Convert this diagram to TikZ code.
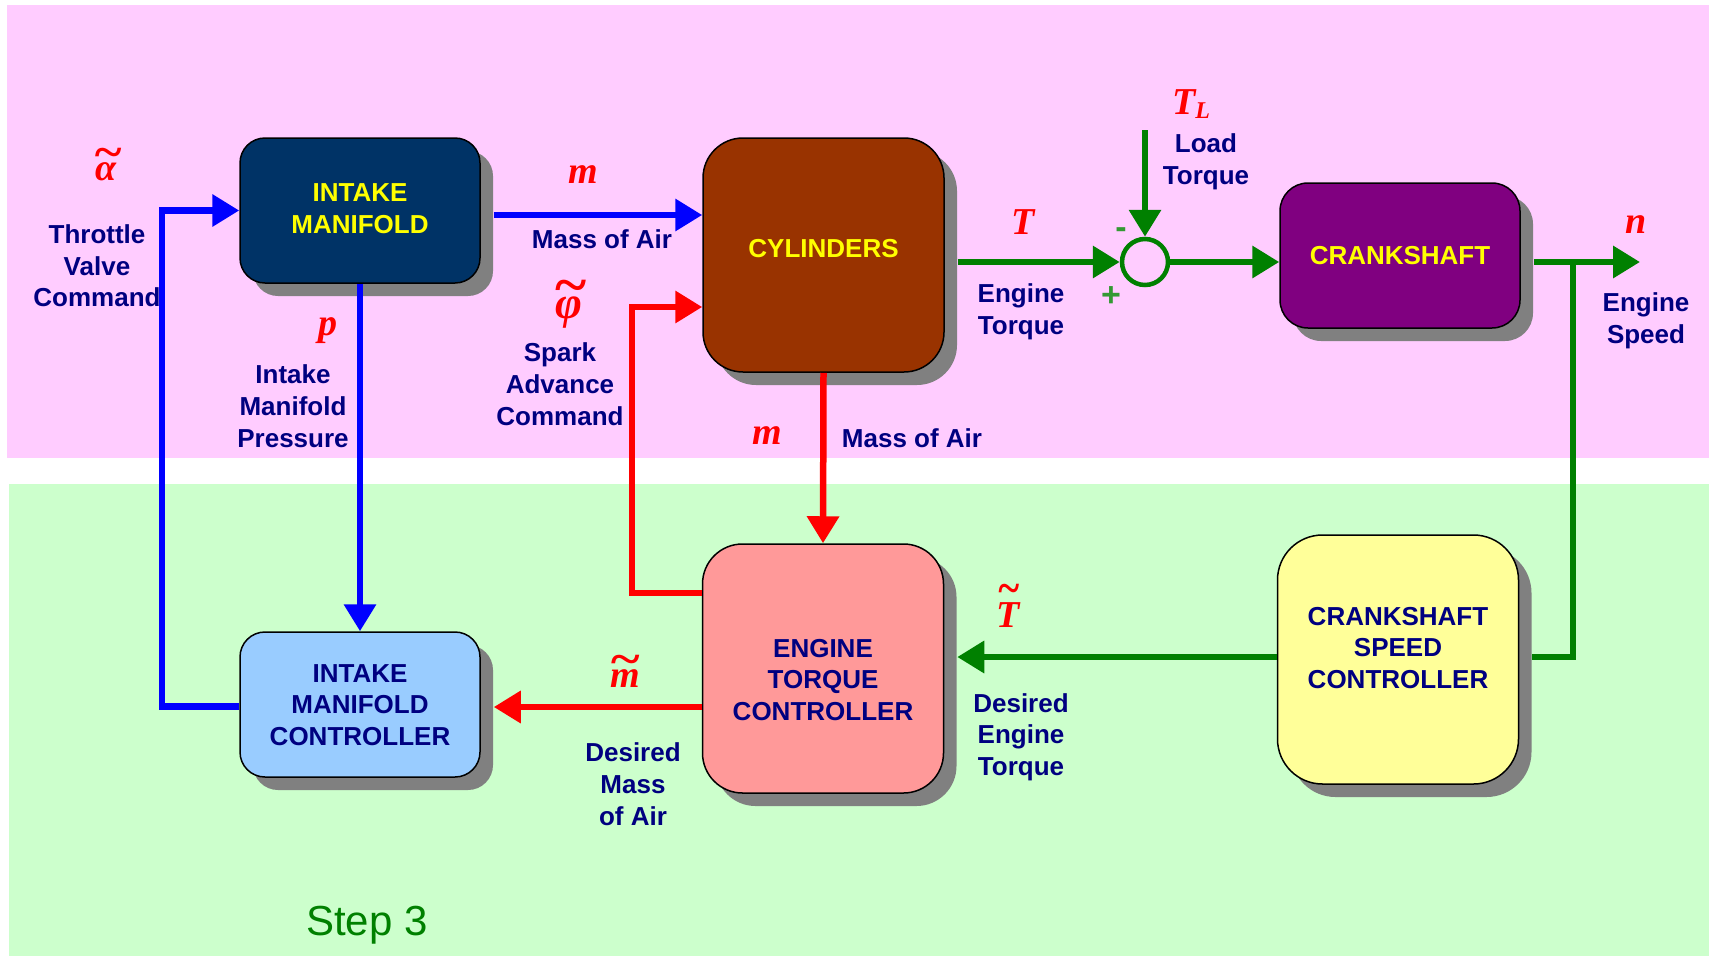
\documentclass[tikz,border=0pt]{standalone}
\usepackage{fontspec}
\usepackage{graphicx}
\setmainfont{Liberation Sans}
\newfontfamily\tms{Liberation Serif}
\usetikzlibrary{arrows.meta,shadows,calc}
\definecolor{pinkbg}{RGB}{255,204,255}
\definecolor{greenbg}{RGB}{204,255,204}
\definecolor{navytxt}{RGB}{0,0,128}
\definecolor{imblue}{RGB}{0,51,102}
\definecolor{cylbrown}{RGB}{153,51,0}
\definecolor{crkpurple}{RGB}{128,0,128}
\definecolor{imclight}{RGB}{153,204,255}
\definecolor{etcpink}{RGB}{255,153,153}
\definecolor{cscyellow}{RGB}{255,255,153}
\definecolor{lineblue}{RGB}{0,0,255}
\definecolor{linered}{RGB}{255,0,0}
\definecolor{linegreen}{RGB}{0,128,0}
\definecolor{signgreen}{RGB}{51,153,51}
\definecolor{shadowgray}{RGB}{128,128,128}
\definecolor{boxyellow}{RGB}{255,255,0}
\newlength\tlw
% #1 raise, #2 kern, #3 x-scale, #4 letter
\newcommand\wtil[4]{\settowidth\tlw{#4}\rlap{\hbox to\tlw{\hss\kern#2\raisebox{#1}[0pt][0pt]{\scalebox{#3}[1.2]{\char"7E}}\hss}}#4}
\begin{document}
\begin{tikzpicture}[x=1pt,y=-1pt,
  blk/.style={draw=black, line width=1.5pt, rounded corners=#1, inner sep=0pt,
    drop shadow={shadow xshift=13pt, shadow yshift=-13pt, fill=shadowgray, opacity=1}},
  btxt/.style={font=\bfseries\fontsize{26}{31.7}\selectfont, align=center, inner sep=0pt},
  lbl/.style={font=\bfseries\fontsize{26}{31.7}\selectfont, text=navytxt, align=center, inner sep=0pt},
  sym/.style={font=\tms\bfseries\itshape\fontsize{38}{40}\selectfont, text=linered, inner sep=0pt},
  sgn/.style={font=\bfseries\fontsize{34}{36}\selectfont, text=signgreen, inner sep=0pt},
  pipe/.style={line width=6.5pt, line join=miter},
  wire/.style={pipe, -{Triangle[length=27pt,width=31pt]}}]
\useasboundingbox (0,0) rectangle (1712,956);
\fill[white] (0,0) rectangle (1712,956);
\fill[pinkbg] (7,5) rectangle (1709,458);
\fill[greenbg] (9,484) rectangle (1709,956);

% blocks
\node[blk=25pt, fill=imblue, minimum width=240pt, minimum height=145pt] (im) at (360,210.5) {};
\node[btxt, text=boxyellow] (imt) at (360,208.5) {INTAKE\\MANIFOLD};
\node[blk=40pt, fill=cylbrown, minimum width=241pt, minimum height=234pt] (cyl) at (823.5,255) {};
\node[btxt, text=boxyellow] (cylt) at (823.5,249) {CYLINDERS};
\node[blk=28pt, fill=crkpurple, minimum width=240pt, minimum height=145pt] (crk) at (1400,255.5) {};
\node[btxt, text=boxyellow] (crkt) at (1400,256) {CRANKSHAFT};
\node[blk=25pt, fill=imclight, minimum width=240pt, minimum height=145pt] (imc) at (360,704.5) {};
\node[btxt, text=navytxt] (imct) at (360,705) {INTAKE\\MANIFOLD\\CONTROLLER};
\node[blk=40pt, fill=etcpink, minimum width=241pt, minimum height=249pt] (etc) at (823,668.5) {};
\node[btxt, text=navytxt] (etct) at (823,680) {ENGINE\\TORQUE\\CONTROLLER};
\node[blk=45pt, fill=cscyellow, minimum width=241pt, minimum height=249pt] (csc) at (1398,659.5) {};
\node[btxt, text=navytxt] (csct) at (1398,648) {CRANKSHAFT\\SPEED\\CONTROLLER};
\node[circle, draw=linegreen, line width=4.5pt, minimum size=46pt, inner sep=0pt] (sum) at (1145,262) {};

% free ends and corners
\coordinate (thr) at (162,210.5);
\coordinate (spk) at (632,307);
\coordinate (tl) at (1145,130);
\coordinate (nout) at (1640,262);
\coordinate (br) at (1573,262);

% connectors
\draw[wire, lineblue] ([yshift=-2pt]imc.west) -| (thr) -- (im.west);
\draw[wire, lineblue] ($(im.east)+(13,4.5)$) -- ($(im.east -| cyl.west)+(0,4.5)$);
\draw[wire, lineblue] (im.south) -- (imc.north);
\draw[wire, linered] ($(etc.west)+(0,-75.5)$) -| (spk) -- (spk -| cyl.west);
\draw[wire, linered] (cyl.south) -- (etc.north);
\draw[wire, linered] ($(etc.west)+(0,38.5)$) -- ($(imc.east)+(13,2.5)$);
\draw[wire, linegreen] ($(cyl.east)+(13,7)$) -- (sum.west);
\draw[wire, linegreen] (tl) -- (sum.north);
\draw[wire, linegreen] (sum.east) -- (sum.east -| crk.west);
\draw[wire, linegreen] ($(crk.east)+(13,6.5)$) -- (nout);
\draw[pipe, linegreen] (br) |- ($(csc.east)+(13,-2.5)$);
\draw[wire, linegreen] ($(csc.west)+(0,-2.5)$) -- ($(etc.east)+(13,-11.5)$);

% symbols
\node[sym] (alpha) at (106,172) {\wtil{0.36em}{0.12em}{1.35}{α}};
\node[sym] (m1) at (583,175) {m};
\node[sym, font=\tms\bfseries\itshape\fontsize{46}{48}\selectfont] (phi) at (569,313) {\wtil{0.33em}{0.05em}{1.3}{φ}};
\node[sym] (p) at (328,331) {p};
\node[sym] (m2) at (767,436) {m};
\node[sym] (T) at (1023,222) {T};
\node[sym] (TL) at (1191,104) {T\raisebox{-0.1em}{\fontsize{24}{26}\selectfont L}};
\node[sym] (n) at (1636,225) {n};
\node[sym] (Tt) at (1008,615) {\wtil{0.63em}{0.06em}{1.05}{T}};
\node[sym] (mt) at (625,679) {\wtil{0.35em}{0em}{1.45}{m}};
\node[sgn] (minus) at (1121,233) {-};
\node[sgn] (plus) at (1111,297) {+};

% labels
\node[lbl] (thrl) at (97,266) {Throttle\\Valve\\Command};
\node[lbl] (mass1) at (602,239) {Mass of Air};
\node[lbl] (spkl) at (560,384) {Spark\\Advance\\Command};
\node[lbl] (imp) at (293,406) {Intake\\Manifold\\Pressure};
\node[lbl] (mass2) at (912,438) {Mass of Air};
\node[lbl] (etq) at (1021,312) {Engine\\Torque};
\node[lbl] (ltq) at (1206,162) {Load\\Torque};
\node[lbl] (esp) at (1646,321) {Engine\\Speed};
\node[lbl] (det) at (1021,737) {Desired\\Engine\\Torque};
\node[lbl] (dma) at (633,784) {Desired\\Mass\\of Air};
\node[font=\fontsize{42}{46}\selectfont, text=linegreen, inner sep=0pt] (step) at (367,925) {Step 3};
\end{tikzpicture}
\end{document}
